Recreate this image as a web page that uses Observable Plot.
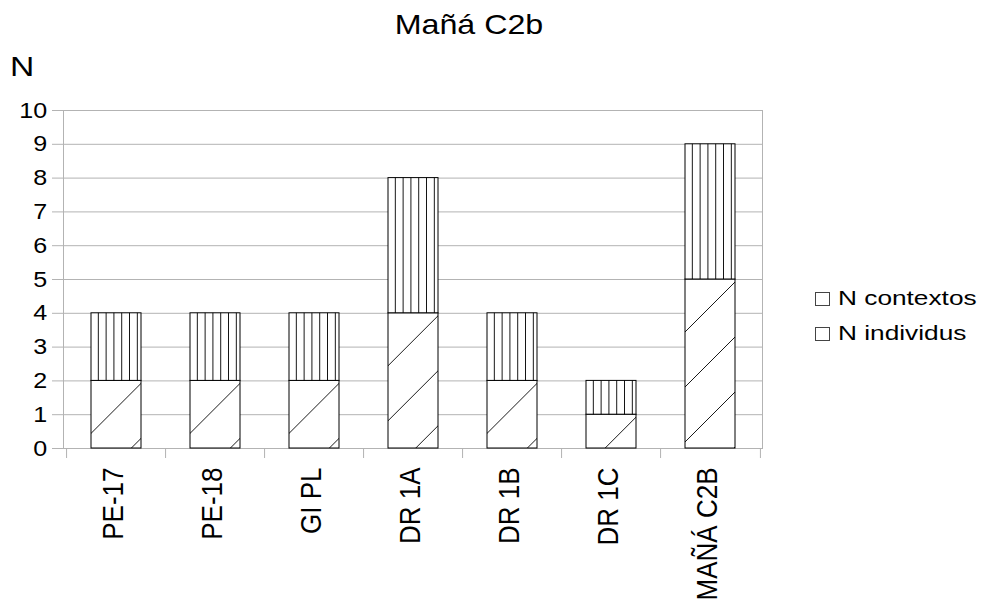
<!DOCTYPE html>
<html>
<head>
<meta charset="utf-8">
<script src="https://cdn.jsdelivr.net/npm/d3@7"></script>
<script src="https://cdn.jsdelivr.net/npm/@observablehq/plot@0.6"></script>
<style>
  html, body { margin: 0; padding: 0; background: #fff; }
  #wrap { position: relative; width: 982px; height: 601px; overflow: hidden; font-family: "Liberation Sans", Arial, sans-serif; color: #000; }
  #wrap svg { position: absolute; left: 0; top: 0; }
  .lbl { position: absolute; white-space: nowrap; }
  .box { position: absolute; width: 13px; height: 12px; border: 1px solid #444; background: #fff; }
</style>
</head>
<body>
<div id="wrap">
  <div class="lbl" id="title" style="left:0; width:938px; text-align:center; top:11px; font-size:28px; line-height:28px; transform:scaleX(1.15); transform-origin:469px 0;">Mañá C2b</div>
  <div class="lbl" id="ylabel" style="left:10px; top:53px; font-size:28px; line-height:28px; transform:scaleX(1.2); transform-origin:0 0;">N</div>
</div>
<script>
// ---- data ----
const categories = ["PE-17", "PE-18", "GI PL", "DR 1A", "DR 1B", "DR 1C", "MAÑÁ C2B"];
const nContextos = [2, 2, 2, 4, 2, 1, 5];
const nIndividus = [2, 2, 2, 4, 2, 1, 4];
const seriesNames = ["N contextos", "N individus"];
const yTicks = [0, 1, 2, 3, 4, 5, 6, 7, 8, 9, 10];

// ---- layout ----
const W = 982, H = 601;
const mL = 63, mR = 220, mT = 110, mB = 153;
const plotW = W - mL - mR, plotH = H - mT - mB;
const step = plotW / categories.length;
const grid = "#b3b3b3";

const rows = categories.map((c, i) => ({cat: c, i, ctx: nContextos[i], ind: nIndividus[i]}));

const chart = Plot.plot({
  width: W, height: H,
  marginLeft: mL, marginRight: mR, marginTop: mT, marginBottom: mB,
  style: {fontFamily: "Liberation Sans, Arial, sans-serif", background: "transparent", color: "#000"},
  x: {domain: categories, paddingInner: 0.5, paddingOuter: 0.25, axis: null},
  y: {domain: [0, 10], axis: null},
  color: {type: "identity"},
  marks: [
    Plot.ruleY(yTicks, {stroke: grid, insetLeft: -11}),
    Plot.frame({stroke: grid}),
    Plot.ruleX(categories, {x: d => d, dx: -step / 2, stroke: grid, insetTop: plotH, insetBottom: -10}),
    Plot.ruleX(categories.slice(-1), {x: d => d, dx: step / 2, stroke: grid, insetTop: plotH, insetBottom: -10}),
    Plot.barY(rows, {x: "cat", y1: 0, y2: "ctx", fill: d => `url(#diag-${d.i})`, stroke: "#000", strokeWidth: 1}),
    Plot.barY(rows, {x: "cat", y1: "ctx", y2: d => d.ctx + d.ind, fill: d => `url(#vert-${d.i})`, stroke: "#000", strokeWidth: 1}),
    Plot.axisY({ticks: yTicks, tickSize: 0, tickPadding: 19, fontSize: 22, label: null, fill: "#000"}),
    Plot.text(categories, {x: d => d, frameAnchor: "bottom", rotate: -90, textAnchor: "end", lineAnchor: "middle", dy: 19, fontSize: 26, fill: "#000"})
  ]
});

const wrap = document.getElementById("wrap");
wrap.appendChild(chart);

// ---- hatch patterns anchored on each bar ----
const xs = chart.scale("x"), ys = chart.scale("y");
const NS = "http://www.w3.org/2000/svg";
const defs = document.createElementNS(NS, "defs");
rows.forEach(r => {
  const left = xs.apply(r.cat);
  const top = ys.apply(r.ctx);
  const pd = document.createElementNS(NS, "pattern");
  pd.setAttribute("id", `diag-${r.i}`);
  pd.setAttribute("patternUnits", "userSpaceOnUse");
  pd.setAttribute("x", left); pd.setAttribute("y", top - 2);
  pd.setAttribute("width", 55); pd.setAttribute("height", 55);
  pd.innerHTML = `<rect width="55" height="55" fill="#fff"/><path d="M0,55L55,0M-5,5L5,-5M50,60L60,50" stroke="#1a1a1a" stroke-width="1" fill="none"/>`;
  defs.appendChild(pd);
  const pv = document.createElementNS(NS, "pattern");
  pv.setAttribute("id", `vert-${r.i}`);
  pv.setAttribute("patternUnits", "userSpaceOnUse");
  pv.setAttribute("x", left); pv.setAttribute("y", 0);
  pv.setAttribute("width", 7.8); pv.setAttribute("height", 10);
  pv.innerHTML = `<rect width="7.8" height="10" fill="#fff"/><line x1="7" x2="7" y1="-1" y2="11" stroke="#111" stroke-width="1" shape-rendering="crispEdges"/>`;
  defs.appendChild(pv);
});
chart.insertBefore(defs, chart.firstChild);

// ---- slight horizontal widening of text, to match the reference glyphs ----
const svgRect = chart.getBoundingClientRect();
chart.querySelectorAll("text").forEach(t => {
  const rotated = (t.getAttribute("transform") || "").includes("rotate");
  const r = t.getBoundingClientRect();
  const s = rotated ? 1.1 : 1.14;
  const ax = (rotated ? (r.left + r.right) / 2 : r.right) - svgRect.left;
  const ay = (r.top + r.bottom) / 2 - svgRect.top;
  const g = document.createElementNS(NS, "g");
  t.parentNode.insertBefore(g, t);
  g.appendChild(t);
  g.setAttribute("transform", `translate(${ax},${ay}) scale(${s},1) translate(${-ax},${-ay})`);
});

// ---- legend ----
seriesNames.forEach((name, k) => {
  const box = document.createElement("div");
  box.className = "box";
  box.style.left = "815px";
  box.style.top = (292 + 35 * k) + "px";
  wrap.appendChild(box);
  const lab = document.createElement("div");
  lab.className = "lbl";
  lab.textContent = name;
  lab.style.left = "838px";
  lab.style.top = (287 + 35 * k) + "px";
  lab.style.fontSize = "21px";
  lab.style.lineHeight = "21px";
  lab.style.transform = "scaleX(1.25)";
  lab.style.transformOrigin = "0 0";
  wrap.appendChild(lab);
});
</script>
</body>
</html>
